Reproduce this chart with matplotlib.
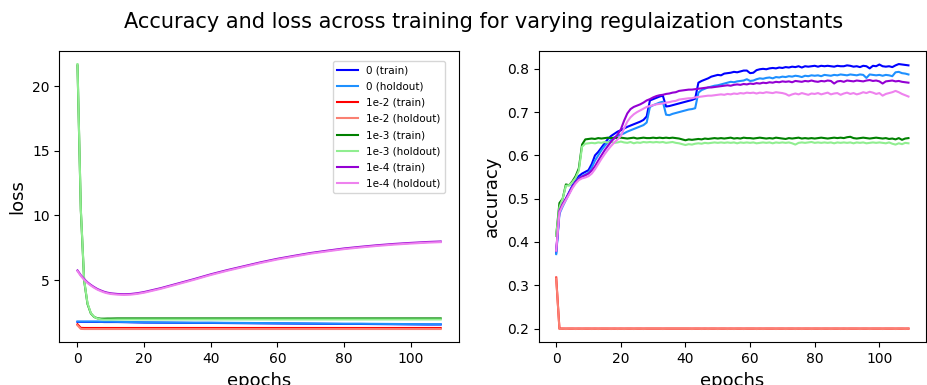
import matplotlib
matplotlib.use('Agg')
import matplotlib.pyplot as plt
import numpy as np


labels = ['0', '1e-2', '1e-3', '1e-4']
train_colors = ['blue', 'red', 'green', 'darkviolet']
holdout_colors = ['dodgerblue', 'salmon', 'lightgreen', 'violet']

# loss is smooth, so it is read at fewer epochs
loss_epochs = [0, 1, 2, 3, 4, 5, 6, 7, 8, 9, 10, 12, 14, 16, 18, 20, 25, 30, 35, 40,
               45, 50, 55, 60, 65, 70, 75, 80, 85, 90, 95, 100, 105, 109]

loss_train_0 = [1.76, 1.76, 1.76, 1.76, 1.76, 1.76, 1.76, 1.76, 1.75, 1.75, 1.75, 1.75, 1.74, 1.73, 1.72, 1.71,
                1.70, 1.69, 1.68, 1.68, 1.67, 1.66, 1.65, 1.64, 1.63, 1.62, 1.61, 1.60, 1.60, 1.59, 1.58,
                1.57, 1.56, 1.56]
loss_hold_0 = [1.79, 1.79, 1.79, 1.79, 1.79, 1.79, 1.79, 1.78, 1.78, 1.78, 1.78, 1.77, 1.76, 1.75, 1.74, 1.73,
               1.72, 1.71, 1.70, 1.70, 1.69, 1.68, 1.67, 1.66, 1.65, 1.64, 1.63, 1.62, 1.62, 1.61, 1.60,
               1.59, 1.58, 1.58]
loss_train_2 = [1.58, 1.30, 1.29, 1.29, 1.29, 1.29, 1.29, 1.29, 1.29, 1.29, 1.29, 1.29, 1.29, 1.29, 1.29, 1.29,
                1.29, 1.29, 1.29, 1.29, 1.29, 1.29, 1.29, 1.29, 1.29, 1.29, 1.29, 1.29, 1.29, 1.29, 1.29,
                1.29, 1.29, 1.29]
loss_hold_2 = [1.50, 1.22, 1.21, 1.21, 1.21, 1.21, 1.21, 1.21, 1.21, 1.21, 1.21, 1.21, 1.21, 1.21, 1.21, 1.21,
               1.21, 1.21, 1.21, 1.21, 1.21, 1.21, 1.21, 1.21, 1.21, 1.21, 1.21, 1.21, 1.21, 1.21, 1.21,
               1.21, 1.21, 1.21]
loss_train_3 = [21.6, 10.4, 4.95, 3.15, 2.42, 2.14, 2.04, 2.01, 2.01, 2.02, 2.02, 2.03, 2.03, 2.03, 2.03, 2.03,
                2.03, 2.03, 2.03, 2.03, 2.03, 2.03, 2.03, 2.03, 2.03, 2.03, 2.03, 2.03, 2.03, 2.03, 2.03,
                2.03, 2.03, 2.03]
loss_hold_3 = [21.7, 10.5, 5.0, 3.2, 2.45, 2.15, 2.02, 1.96, 1.94, 1.94, 1.94, 1.95, 1.95, 1.95, 1.95, 1.95,
               1.95, 1.95, 1.95, 1.95, 1.95, 1.95, 1.95, 1.95, 1.95, 1.95, 1.95, 1.95, 1.95, 1.95, 1.95,
               1.95, 1.95, 1.95]
loss_train_4 = [5.74, 5.37, 5.07, 4.82, 4.62, 4.45, 4.30, 4.19, 4.09, 4.02, 3.97, 3.92, 3.90, 3.92, 3.98, 4.07,
                4.37, 4.72, 5.07, 5.44, 5.77, 6.07, 6.37, 6.64, 6.87, 7.09, 7.27, 7.44, 7.57, 7.69, 7.79,
                7.87, 7.94, 7.98]
loss_hold_4 = [5.69, 5.32, 5.02, 4.77, 4.57, 4.40, 4.25, 4.14, 4.04, 3.97, 3.92, 3.87, 3.85, 3.87, 3.93, 4.02,
               4.32, 4.67, 5.02, 5.39, 5.72, 6.02, 6.32, 6.59, 6.82, 7.04, 7.22, 7.39, 7.52, 7.64, 7.74,
               7.82, 7.89, 7.93]

acc_epochs = list(range(110))

acc_train_0 = [
    0.375, 0.470, 0.487, 0.500, 0.515, 0.530, 0.542, 0.552, 0.558, 0.562,
    0.566, 0.580, 0.600, 0.608, 0.618, 0.628, 0.638, 0.645, 0.650, 0.655,
    0.658, 0.662, 0.666, 0.669, 0.672, 0.675, 0.678, 0.682, 0.690, 0.727,
    0.730, 0.733, 0.736, 0.738, 0.713, 0.714, 0.716, 0.718, 0.720, 0.722,
    0.724, 0.726, 0.728, 0.731, 0.768, 0.772, 0.775, 0.778, 0.782, 0.784,
    0.786, 0.785, 0.789, 0.790, 0.791, 0.793, 0.792, 0.794, 0.796, 0.796,
    0.790, 0.791, 0.797, 0.799, 0.800, 0.799, 0.801, 0.802, 0.801, 0.803,
    0.802, 0.804, 0.803, 0.805, 0.804, 0.806, 0.803, 0.806, 0.805, 0.806,
    0.807, 0.805, 0.807, 0.806, 0.807, 0.806, 0.805, 0.807, 0.806, 0.806,
    0.808, 0.807, 0.805, 0.806, 0.804, 0.807, 0.806, 0.801, 0.807, 0.806,
    0.810, 0.806, 0.805, 0.806, 0.804, 0.808, 0.811, 0.810, 0.809, 0.808]
acc_hold_0 = [
    0.372, 0.465, 0.482, 0.497, 0.512, 0.527, 0.538, 0.547, 0.552, 0.556,
    0.560, 0.572, 0.588, 0.600, 0.612, 0.622, 0.630, 0.636, 0.640, 0.645,
    0.648, 0.651, 0.655, 0.658, 0.661, 0.664, 0.667, 0.670, 0.676, 0.712,
    0.716, 0.719, 0.722, 0.724, 0.694, 0.693, 0.696, 0.698, 0.700, 0.702,
    0.704, 0.706, 0.707, 0.709, 0.745, 0.751, 0.754, 0.757, 0.759, 0.761,
    0.762, 0.764, 0.766, 0.768, 0.770, 0.769, 0.771, 0.772, 0.773, 0.776,
    0.772, 0.773, 0.776, 0.778, 0.777, 0.779, 0.780, 0.778, 0.781, 0.780,
    0.782, 0.781, 0.783, 0.782, 0.784, 0.783, 0.781, 0.784, 0.783, 0.785,
    0.784, 0.785, 0.783, 0.786, 0.785, 0.784, 0.786, 0.785, 0.787, 0.786,
    0.785, 0.787, 0.786, 0.785, 0.787, 0.786, 0.779, 0.787, 0.786, 0.785,
    0.786, 0.784, 0.786, 0.785, 0.783, 0.792, 0.793, 0.790, 0.789, 0.787]
acc_train_2 = [
    0.318, 0.200, 0.200, 0.200, 0.200, 0.200, 0.200, 0.200, 0.200, 0.200,
    0.200, 0.200, 0.200, 0.200, 0.200, 0.200, 0.200, 0.200, 0.200, 0.200,
    0.200, 0.200, 0.200, 0.200, 0.200, 0.200, 0.200, 0.200, 0.200, 0.200,
    0.200, 0.200, 0.200, 0.200, 0.200, 0.200, 0.200, 0.200, 0.200, 0.200,
    0.200, 0.200, 0.200, 0.200, 0.200, 0.200, 0.200, 0.200, 0.200, 0.200,
    0.200, 0.200, 0.200, 0.200, 0.200, 0.200, 0.200, 0.200, 0.200, 0.200,
    0.200, 0.200, 0.200, 0.200, 0.200, 0.200, 0.200, 0.200, 0.200, 0.200,
    0.200, 0.200, 0.200, 0.200, 0.200, 0.200, 0.200, 0.200, 0.200, 0.200,
    0.200, 0.200, 0.200, 0.200, 0.200, 0.200, 0.200, 0.200, 0.200, 0.200,
    0.200, 0.200, 0.200, 0.200, 0.200, 0.200, 0.200, 0.200, 0.200, 0.200,
    0.200, 0.200, 0.200, 0.200, 0.200, 0.200, 0.200, 0.200, 0.200, 0.200]
acc_hold_2 = [
    0.316, 0.199, 0.200, 0.199, 0.200, 0.200, 0.199, 0.200, 0.199, 0.200,
    0.200, 0.199, 0.200, 0.199, 0.200, 0.200, 0.200, 0.199, 0.200, 0.199,
    0.200, 0.199, 0.200, 0.200, 0.199, 0.200, 0.200, 0.199, 0.200, 0.200,
    0.200, 0.200, 0.200, 0.199, 0.200, 0.200, 0.200, 0.200, 0.200, 0.200,
    0.200, 0.200, 0.199, 0.200, 0.200, 0.199, 0.200, 0.199, 0.200, 0.200,
    0.199, 0.200, 0.200, 0.199, 0.200, 0.199, 0.200, 0.200, 0.199, 0.200,
    0.200, 0.200, 0.199, 0.200, 0.199, 0.200, 0.200, 0.200, 0.199, 0.200,
    0.200, 0.199, 0.200, 0.200, 0.199, 0.200, 0.199, 0.200, 0.200, 0.199,
    0.200, 0.200, 0.199, 0.200, 0.200, 0.199, 0.200, 0.200, 0.199, 0.200,
    0.199, 0.200, 0.200, 0.200, 0.199, 0.200, 0.200, 0.199, 0.200, 0.200,
    0.200, 0.199, 0.200, 0.200, 0.200, 0.199, 0.200, 0.200, 0.199, 0.200]
acc_train_3 = [
    0.415, 0.490, 0.500, 0.533, 0.531, 0.540, 0.552, 0.570, 0.625, 0.637,
    0.638, 0.639, 0.638, 0.640, 0.639, 0.640, 0.641, 0.640, 0.641, 0.640,
    0.641, 0.640, 0.639, 0.640, 0.641, 0.639, 0.640, 0.641, 0.640, 0.640,
    0.641, 0.640, 0.641, 0.640, 0.641, 0.640, 0.641, 0.640, 0.639, 0.637,
    0.635, 0.637, 0.636, 0.637, 0.638, 0.637, 0.639, 0.638, 0.639, 0.640,
    0.639, 0.640, 0.639, 0.640, 0.641, 0.639, 0.640, 0.639, 0.641, 0.640,
    0.640, 0.639, 0.640, 0.641, 0.640, 0.639, 0.640, 0.639, 0.641, 0.640,
    0.639, 0.638, 0.640, 0.639, 0.640, 0.641, 0.639, 0.640, 0.639, 0.640,
    0.639, 0.640, 0.641, 0.640, 0.639, 0.640, 0.641, 0.640, 0.641, 0.640,
    0.642, 0.643, 0.640, 0.639, 0.640, 0.641, 0.640, 0.639, 0.640, 0.641,
    0.640, 0.639, 0.640, 0.638, 0.639, 0.637, 0.640, 0.636, 0.639, 0.640]
acc_hold_3 = [
    0.415, 0.480, 0.500, 0.530, 0.531, 0.538, 0.548, 0.565, 0.620, 0.627,
    0.628, 0.629, 0.628, 0.630, 0.629, 0.631, 0.630, 0.631, 0.629, 0.630,
    0.632, 0.630, 0.629, 0.631, 0.628, 0.630, 0.629, 0.631, 0.630, 0.631,
    0.630, 0.631, 0.630, 0.631, 0.629, 0.630, 0.631, 0.629, 0.628, 0.626,
    0.624, 0.626, 0.625, 0.627, 0.628, 0.627, 0.629, 0.628, 0.629, 0.630,
    0.629, 0.630, 0.629, 0.630, 0.629, 0.630, 0.628, 0.630, 0.629, 0.630,
    0.629, 0.630, 0.628, 0.629, 0.630, 0.629, 0.630, 0.628, 0.630, 0.629,
    0.630, 0.629, 0.630, 0.628, 0.625, 0.629, 0.630, 0.629, 0.630, 0.631,
    0.629, 0.630, 0.629, 0.630, 0.629, 0.630, 0.628, 0.630, 0.629, 0.630,
    0.629, 0.630, 0.628, 0.630, 0.629, 0.630, 0.628, 0.629, 0.630, 0.629,
    0.630, 0.629, 0.628, 0.630, 0.627, 0.625, 0.628, 0.626, 0.629, 0.628]
acc_train_4 = [
    0.380, 0.472, 0.488, 0.500, 0.513, 0.527, 0.538, 0.546, 0.551, 0.554,
    0.558, 0.565, 0.575, 0.588, 0.600, 0.612, 0.622, 0.632, 0.640, 0.648,
    0.660, 0.680, 0.697, 0.707, 0.712, 0.715, 0.718, 0.722, 0.727, 0.730,
    0.734, 0.737, 0.739, 0.740, 0.742, 0.743, 0.745, 0.746, 0.749, 0.750,
    0.751, 0.752, 0.752, 0.753, 0.754, 0.755, 0.756, 0.757, 0.757, 0.758,
    0.759, 0.760, 0.761, 0.762, 0.761, 0.763, 0.764, 0.763, 0.765, 0.764,
    0.766, 0.765, 0.767, 0.766, 0.768, 0.767, 0.769, 0.768, 0.770, 0.769,
    0.771, 0.770, 0.771, 0.769, 0.772, 0.771, 0.770, 0.772, 0.771, 0.773,
    0.771, 0.770, 0.772, 0.771, 0.773, 0.772, 0.766, 0.771, 0.772, 0.770,
    0.773, 0.772, 0.771, 0.773, 0.772, 0.771, 0.773, 0.774, 0.772, 0.773,
    0.771, 0.766, 0.771, 0.772, 0.773, 0.771, 0.772, 0.770, 0.769, 0.768]
acc_hold_4 = [
    0.380, 0.468, 0.484, 0.497, 0.510, 0.524, 0.535, 0.543, 0.547, 0.549,
    0.552, 0.558, 0.568, 0.580, 0.592, 0.603, 0.613, 0.622, 0.630, 0.637,
    0.645, 0.662, 0.678, 0.688, 0.695, 0.700, 0.704, 0.708, 0.712, 0.714,
    0.716, 0.718, 0.719, 0.720, 0.722, 0.723, 0.725, 0.726, 0.729, 0.730,
    0.731, 0.732, 0.732, 0.734, 0.735, 0.736, 0.737, 0.738, 0.738, 0.739,
    0.740, 0.741, 0.740, 0.742, 0.741, 0.743, 0.742, 0.744, 0.743, 0.745,
    0.744, 0.745, 0.743, 0.745, 0.744, 0.746, 0.745, 0.744, 0.746, 0.745,
    0.744, 0.742, 0.738, 0.741, 0.743, 0.741, 0.744, 0.742, 0.740, 0.743,
    0.742, 0.744, 0.741, 0.743, 0.745, 0.741, 0.743, 0.744, 0.740, 0.743,
    0.745, 0.742, 0.744, 0.741, 0.743, 0.746, 0.744, 0.747, 0.745, 0.742,
    0.744, 0.738, 0.742, 0.744, 0.746, 0.749, 0.746, 0.742, 0.739, 0.736]

loss_train = [loss_train_0, loss_train_2, loss_train_3, loss_train_4]
loss_hold = [loss_hold_0, loss_hold_2, loss_hold_3, loss_hold_4]
acc_train = [acc_train_0, acc_train_2, acc_train_3, acc_train_4]
acc_hold = [acc_hold_0, acc_hold_2, acc_hold_3, acc_hold_4]


def plot_runs(ax, epochs, train, hold, ylabel):
    for i, lab in enumerate(labels):
        ax.plot(epochs, train[i], color=train_colors[i], label=lab + ' (train)')
        ax.plot(epochs, hold[i], color=holdout_colors[i], label=lab + ' (holdout)')
    ax.set_xlabel('epochs', fontsize=13)
    ax.set_ylabel(ylabel, fontsize=13)
    ax.tick_params(labelsize=10)


fig = plt.figure(figsize=(9.27, 3.85), dpi=100)
ax1 = fig.add_axes([0.064, 0.111, 0.431, 0.757])
ax2 = fig.add_axes([0.581, 0.111, 0.418, 0.757])

plot_runs(ax1, loss_epochs, loss_train, loss_hold, 'loss')
ax1.legend(loc='upper right', bbox_to_anchor=(0.965, 0.965), borderaxespad=0,
           fontsize=7.5, labelspacing=0.6)
plot_runs(ax2, acc_epochs, acc_train, acc_hold, 'accuracy')

fig.text(0.522, 0.943, 'Accuracy and loss across training for varying regulaization constants',
         ha='center', va='center', fontsize=15)

fig.savefig('out.png', dpi=100)
